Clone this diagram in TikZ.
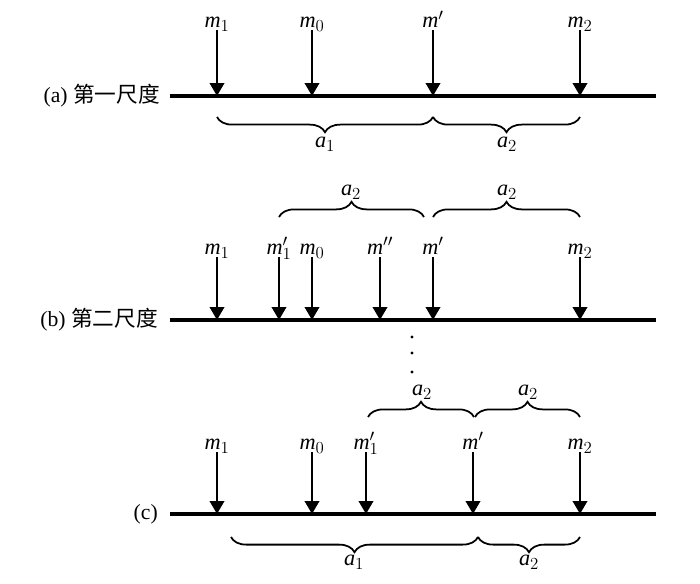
\documentclass[tikz,border=0pt]{standalone}
\usepackage{fontspec}
\setmainfont{Liberation Serif}
\newfontfamily\cjk{Noto Sans CJK SC}
\usetikzlibrary{arrows.meta,decorations.pathreplacing}
\newcommand{\mv}{\mathit{m}}
\newcommand{\av}{\mathit{a}}

\begin{document}
\begin{tikzpicture}[x=0.03cm, y=-0.03cm,
		axis/.style={line width=2.8pt},
		arr/.style={line width=2.3pt, -{Triangle[length=3.9mm, width=4.3mm]}},
		lab/.style={inner sep=0pt, text height=0.75em, text depth=0.2em, font=\fontsize{19}{23}\selectfont},
		row/.style={inner sep=0pt, anchor=east, font=\fontsize{18.5}{22}\selectfont},
		brc/.style={decorate, decoration={brace, amplitude=13pt}, line width=1.5pt},
		mbrc/.style={decorate, decoration={brace, mirror, amplitude=13pt}, line width=1.5pt}]
	\useasboundingbox (0,0) rectangle (700,583);
	% (a) first scale
	\node[row] (rowa) at (160,96) {(a) {\cjk 第一尺度}};
	\coordinate (a-l) at (170,96);
	\coordinate (a-r) at (656,96);
	\draw[axis] (a-l) -- (a-r);
	\foreach \x/\lbl/\n in {217/\mv_1/a-m1, 312/\mv_0/a-m0, 433/\mv'/a-mp, 580/\mv_2/a-m2} {
		\node[lab] (\n) at (\x,24.5) {$\lbl$};
		\coordinate (\n-f) at (\x,96);
		\draw[arr] (\n) -- (\n-f);
	}
	\draw[mbrc] (217,117) -- (433,117);
	\draw[mbrc] (433,117) -- (580,117);
	\node[lab] (a-a1) at (325,144.5) {$\av_1$};
	\node[lab] (a-a2) at (507,144.5) {$\av_2$};
	% (b) second scale
	\draw[brc] (279,217) -- (424,217);
	\draw[brc] (433,217) -- (580,217);
	\node[lab] (b-a2l) at (351,192.5) {$\av_2$};
	\node[lab] (b-a2r) at (507,192.5) {$\av_2$};
	\node[row] (rowb) at (158,320) {(b) {\cjk 第二尺度}};
	\coordinate (b-l) at (170,320);
	\coordinate (b-r) at (656,320);
	\draw[axis] (b-l) -- (b-r);
	\foreach \x/\lbl/\n in {217/\mv_1/b-m1, 279/\mv'_1/b-m1p, 312/\mv_0/b-m0, 380/\mv''/b-mpp, 433/\mv'/b-mp, 580/\mv_2/b-m2} {
		\node[lab] (\n) at (\x,251) {$\lbl$};
		\coordinate (\n-f) at (\x,320);
		\draw[arr] (\n) -- (\n-f);
	}
	% dots
	\foreach \y in {337,353,372}
		\fill (412,\y) circle (1.6);
	% (c)
	\draw[brc] (368,417) -- (474,417);
	\draw[brc] (475,417) -- (580,417);
	\node[lab] (c-a2l) at (422,392.5) {$\av_2$};
	\node[lab] (c-a2r) at (528,392.5) {$\av_2$};
	\node[row] (rowc) at (158,514) {(c)};
	\coordinate (c-l) at (170,514);
	\coordinate (c-r) at (656,514);
	\draw[axis] (c-l) -- (c-r);
	\foreach \x/\lbl/\n in {217/\mv_1/c-m1, 312/\mv_0/c-m0, 366/\mv'_1/c-m1p, 473/\mv'/c-mp, 580/\mv_2/c-m2} {
		\node[lab] (\n) at (\x,446) {$\lbl$};
		\coordinate (\n-f) at (\x,514);
		\draw[arr] (\n) -- (\n-f);
	}
	\draw[mbrc] (231,537) -- (478,537);
	\draw[mbrc] (478,537) -- (580,537);
	\node[lab] (c-a1) at (354,562.5) {$\av_1$};
	\node[lab] (c-a2) at (529,562.5) {$\av_2$};
\end{tikzpicture}
\end{document}
